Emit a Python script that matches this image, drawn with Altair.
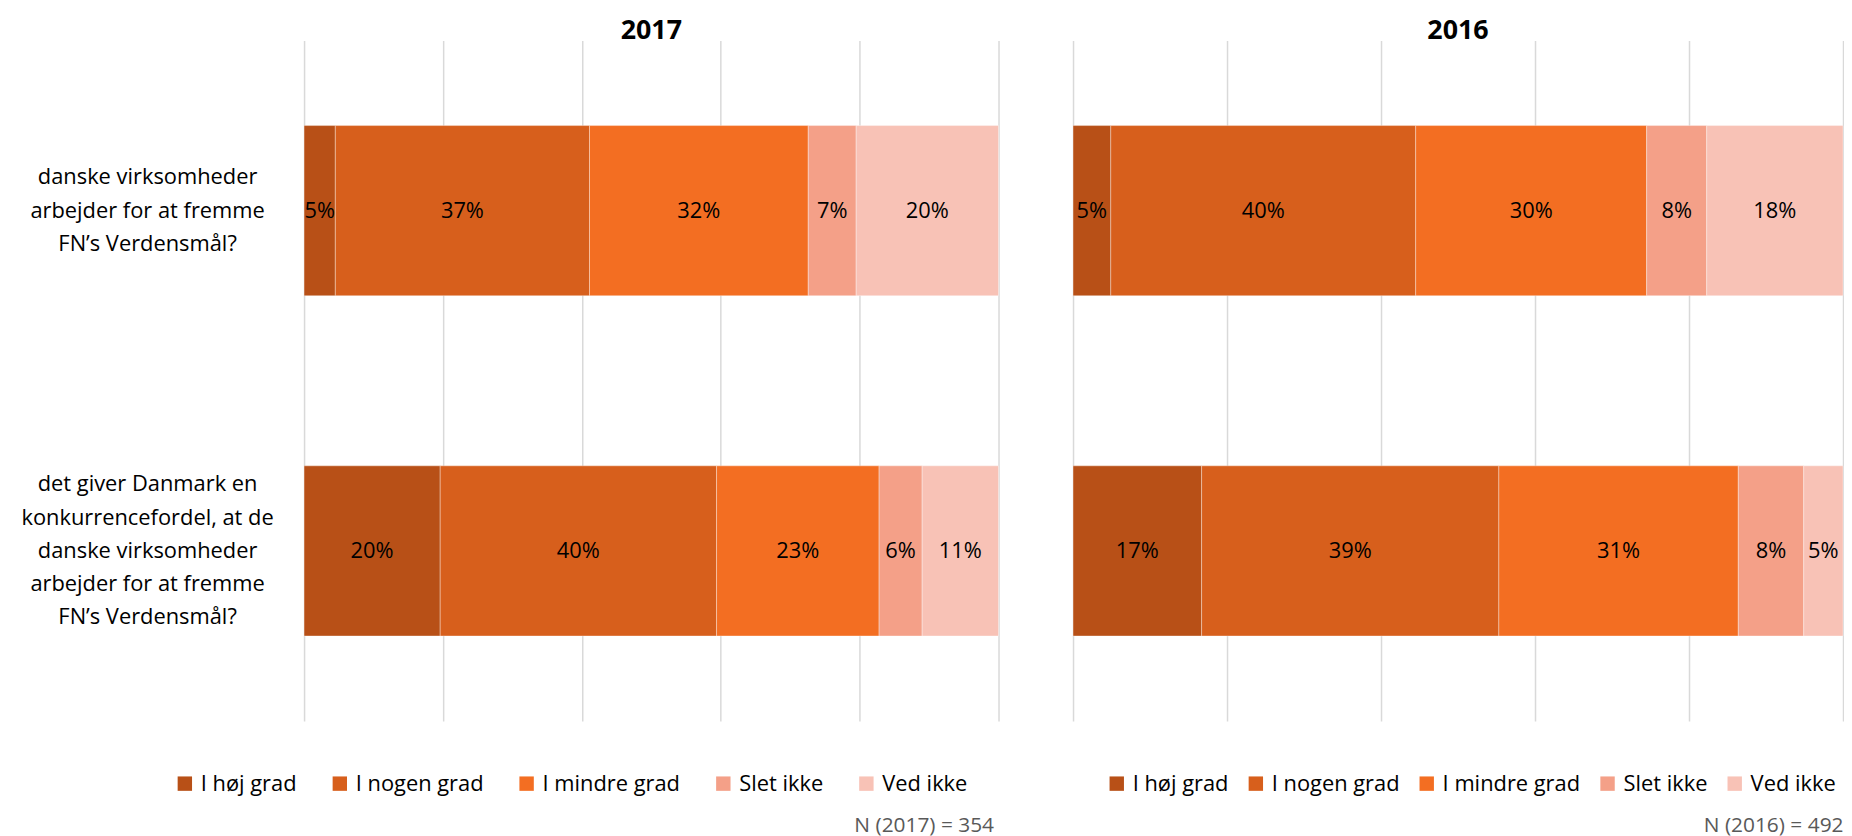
import altair as alt
import pandas as pd

questions = [
    "danske virksomheder|arbejder for at fremme|FN’s Verdensmål?",
    "det giver Danmark en|konkurrencefordel, at de|danske virksomheder|arbejder for at fremme|FN’s Verdensmål?",
]
responses = ["I høj grad", "I nogen grad", "I mindre grad", "Slet ikke", "Ved ikke"]
colors = ["#B85017", "#D75F1C", "#F36E22", "#F4A088", "#F8C2B6"]

# values (%), labels as printed
vals_2017_q1 = [4.5, 36.6, 31.5, 6.9, 20.5]
vals_2017_q2 = [19.6, 39.8, 23.4, 6.2, 11.0]
vals_2016_q1 = [4.9, 39.6, 30.0, 7.8, 17.7]
vals_2016_q2 = [16.7, 38.6, 31.1, 8.5, 5.1]
labels_2017_q1 = ["5%", "37%", "32%", "7%", "20%"]
labels_2017_q2 = ["20%", "40%", "23%", "6%", "11%"]
labels_2016_q1 = ["5%", "40%", "30%", "8%", "18%"]
labels_2016_q2 = ["17%", "39%", "31%", "8%", "5%"]

n_texts = {"2017": "N (2017) = 354", "2016": "N (2016) = 492"}

FONT = "Open Sans"


def make_df(year, vq1, lq1, vq2, lq2):
    rows = []
    for q, vals, labs in [(questions[0], vq1, lq1), (questions[1], vq2, lq2)]:
        for i, (r, v, l) in enumerate(zip(responses, vals, labs)):
            rows.append({"year": year, "question": q, "response": r,
                         "order": i, "value": v, "label": l})
    return pd.DataFrame(rows)


def panel(df, year, width, show_y, legend_x, col_pad, n_x):
    base = alt.Chart(df).transform_stack(
        stack="value", groupby=["question"], as_=["v0", "v1"],
        sort=[alt.SortField("order")]
    ).transform_calculate(mid="(datum.v0 + datum.v1) / 2")

    y_axis = alt.Axis(
        title=None, ticks=False, domain=False,
        labels=show_y,
        labelExpr="split(datum.label, '|')",
        labelAlign="center", labelBaseline="middle",
        labelPadding=158, labelFont=FONT, labelFontSize=22,
        labelLineHeight=33.5, labelColor="#000000", labelLimit=400,
        labelOffset={"condition": {"test": "indexof(datum.value, 'giver') >= 0",
                                   "value": -67},
                     "value": -33.5},
    )
    y = alt.Y("question:N", sort=questions, axis=y_axis,
              scale=alt.Scale(paddingInner=0.5, paddingOuter=0.25))

    bars = base.mark_bar(stroke="white", strokeWidth=1, strokeOpacity=0.35).encode(
        x=alt.X("v0:Q", scale=alt.Scale(domain=[0, 100], nice=False, zero=True),
                axis=alt.Axis(values=[0, 20, 40, 60, 80, 100], labels=False,
                              ticks=False, domain=False, grid=True,
                              gridColor="#D9D9D9", gridWidth=1.5,
                              title=n_texts[year], titleFont=FONT,
                              titleFontSize=21, titleFontWeight="normal",
                              titleColor="#595959", titleAnchor="end",
                              titleAlign="right", titleBaseline="middle",
                              titleX=n_x, titleY=105)),
        x2="v1:Q",
        y=y,
        color=alt.Color("response:N",
                        scale=alt.Scale(domain=responses, range=colors),
                        sort=responses,
                        legend=alt.Legend(
                            title=None, orient="none", direction="horizontal",
                            columns=5, legendX=legend_x, legendY=737,
                            symbolType="square", symbolSize=210,
                            symbolStrokeWidth=0, labelFont=FONT,
                            labelFontSize=22, labelColor="#000000",
                            labelOffset=5, columnPadding=col_pad,
                            labelLimit=300)),
    )
    texts = base.mark_text(font=FONT, fontSize=22, color="#000000",
                           baseline="middle", align="center").encode(
        x=alt.X("mid:Q"),
        y=y,
        text="label:N",
    )
    return alt.layer(bars, texts).properties(
        width=width, height=685,
        title=alt.TitleParams(year, font=FONT, fontSize=27, fontWeight="bold",
                              color="#000000", anchor="middle", offset=-4),
    )


df17 = make_df("2017", vals_2017_q1, labels_2017_q1, vals_2017_q2, labels_2017_q2)
df16 = make_df("2016", vals_2016_q1, labels_2016_q1, vals_2016_q2, labels_2016_q2)

left = panel(df17, "2017", 699, True, -131, 32, 694)
right = panel(df16, "2016", 775, False, 33, 16, 775)

chart = alt.hconcat(left, right, spacing=73).resolve_scale(
    color="independent", y="independent", x="independent"
).resolve_legend(color="independent").configure_view(
    stroke=None
).properties(padding={"left": 12, "top": 6, "right": 0, "bottom": 0})

chart.save("out.html", embed_options={"renderer": "svg", "actions": False})
